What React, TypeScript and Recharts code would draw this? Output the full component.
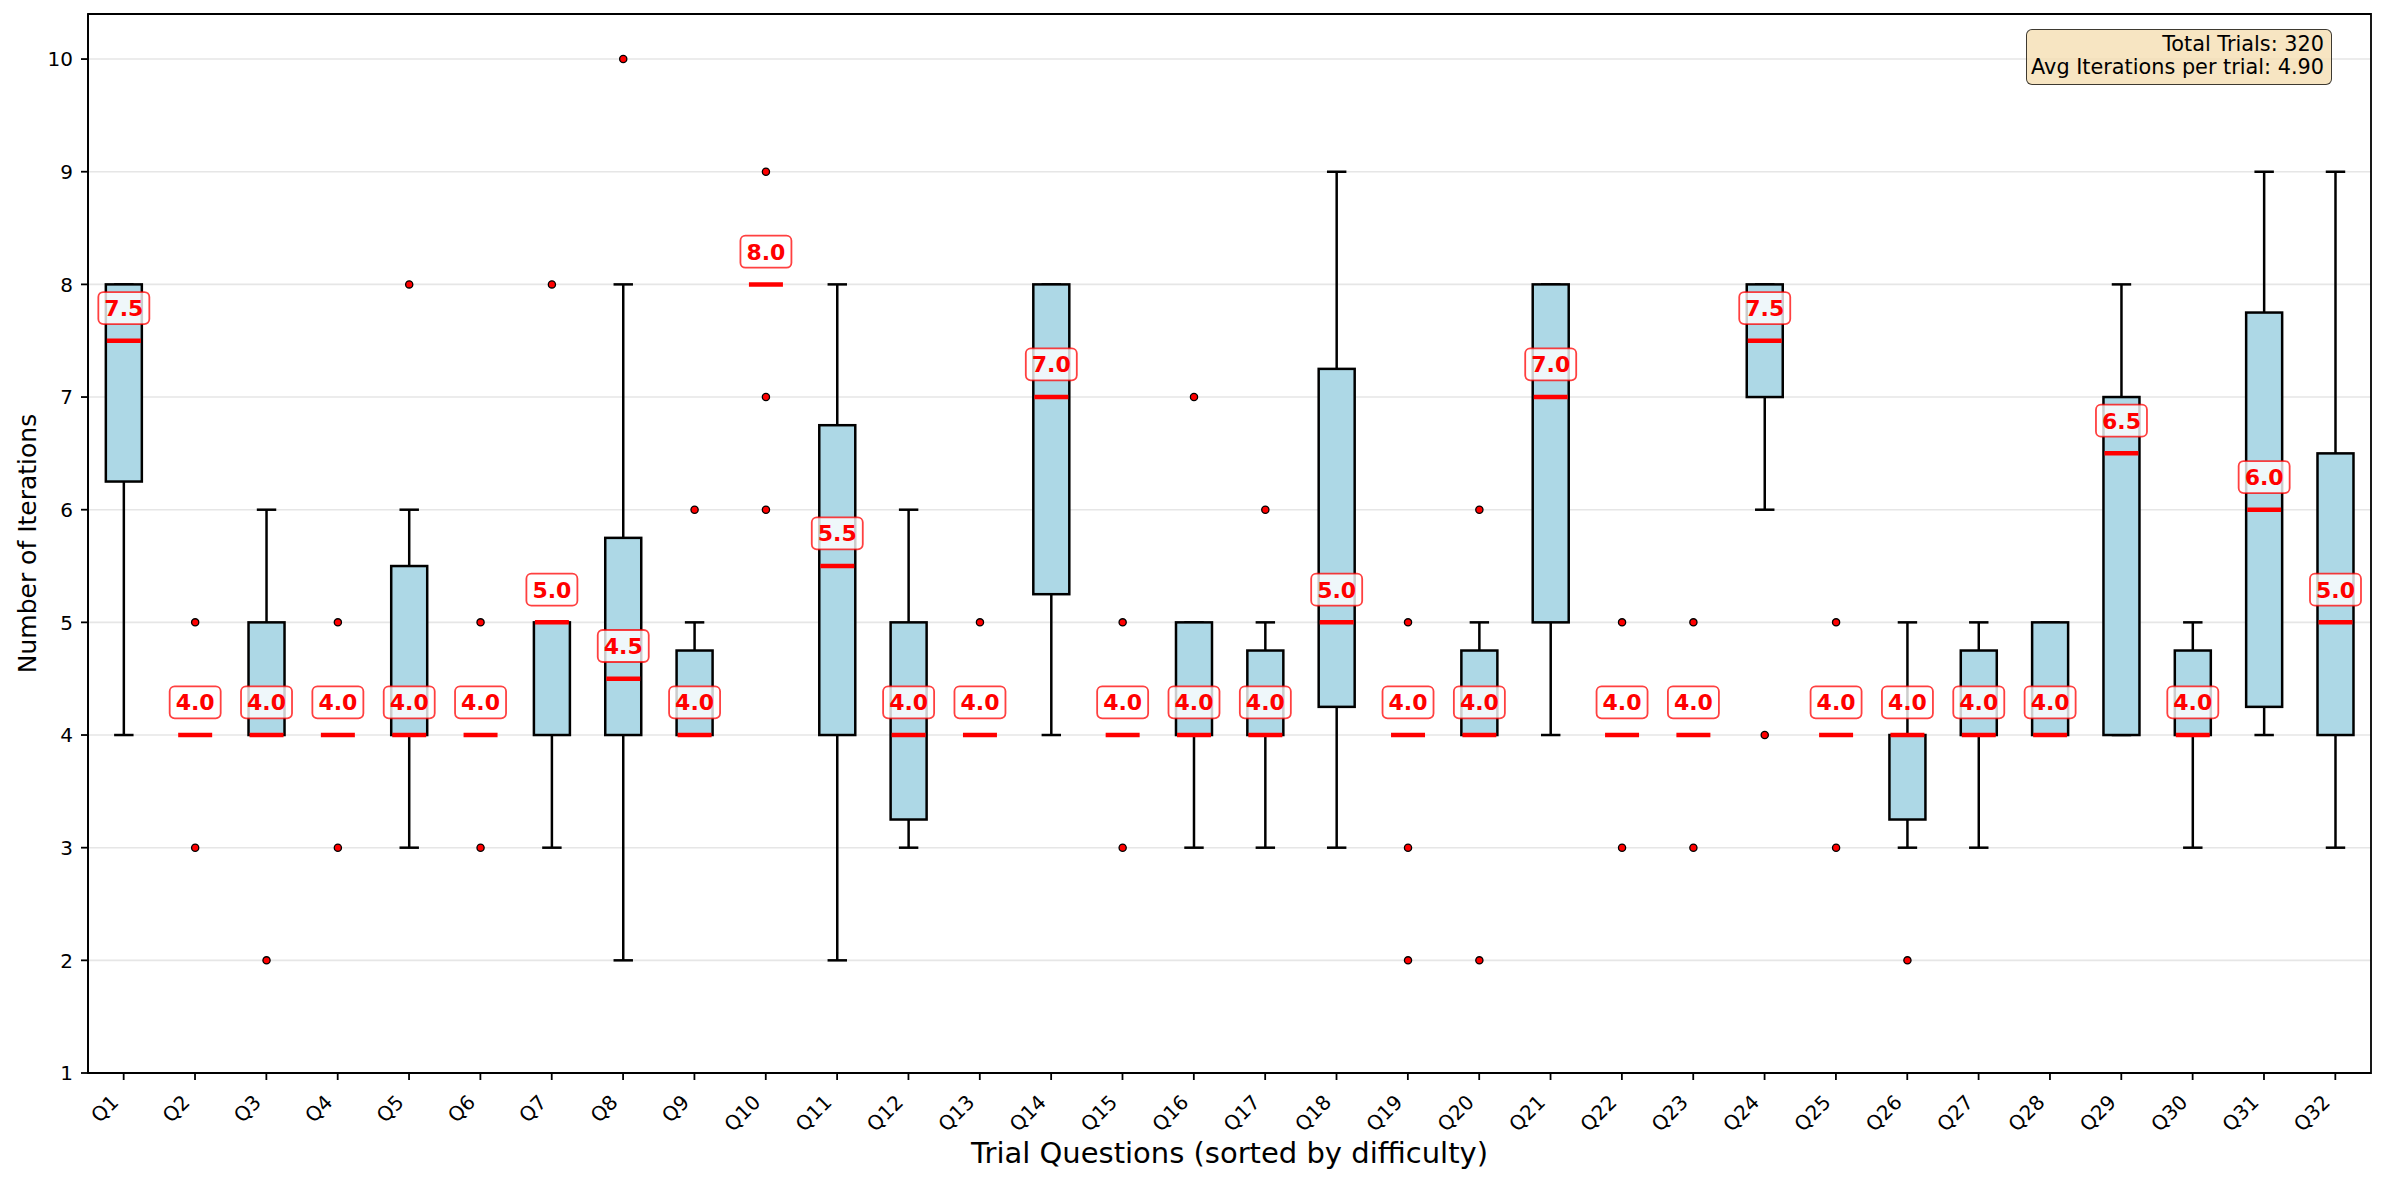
import React from 'react';
import { ComposedChart, Bar, XAxis, YAxis, CartesianGrid, ReferenceArea } from 'recharts';

const categories = ['Q1','Q2','Q3','Q4','Q5','Q6','Q7','Q8','Q9','Q10','Q11','Q12','Q13','Q14','Q15','Q16','Q17','Q18','Q19','Q20','Q21','Q22','Q23','Q24','Q25','Q26','Q27','Q28','Q29','Q30','Q31','Q32'];
const whiskerLow = [4,4,4,4,3,4,3,2,4,8,2,3,4,4,4,3,3,3,4,4,4,4,4,6,4,3,3,4,4,3,4,3];
const quartile1 = [6.25,4,4,4,4,4,4,4,4,8,4,3.25,4,5.25,4,4,4,4.25,4,4,5,4,4,7,4,3.25,4,4,4,4,4.25,4];
const medians = [7.5,4,4,4,4,4,5,4.5,4,8,5.5,4,4,7,4,4,4,5,4,4,7,4,4,7.5,4,4,4,4,6.5,4,6,5];
const quartile3 = [8,4,5,4,5.5,4,5,5.75,4.75,8,6.75,5,4,8,4,5,4.75,7.25,4,4.75,8,4,4,8,4,4,4.75,5,7,4.75,7.75,6.5];
const whiskerHigh = [8,4,6,4,6,4,5,8,5,8,8,6,4,8,4,5,5,9,4,5,8,4,4,8,4,5,5,5,8,5,9,9];
const outliers: number[][] = [[],[5,3],[2],[5,3],[8],[5,3],[8],[10],[6],[9,7,6],[],[],[5],[],[5,3],[7],[6],[],[5,3,2],[6,2],[],[5,3],[5,3],[4],[5,3],[2],[],[],[],[],[],[]];
const yTicks = [1,2,3,4,5,6,7,8,9,10];
const yDomain: [number, number] = [1, 10.4];
const totalTrials = 320;
const avgIterations = 4.9;

const data = categories.map((name, i) => {
  const all = [whiskerLow[i], whiskerHigh[i], ...outliers[i]];
  return {
    name,
    wl: whiskerLow[i], q1: quartile1[i], med: medians[i], q3: quartile3[i], wh: whiskerHigh[i],
    out: outliers[i],
    lo: Math.min(...all), hi: Math.max(...all),
  };
});

const FONT = 'DejaVu Sans, sans-serif';

const BoxShape = (props: any) => {
  const { x, y, width, height, payload } = props;
  if (!payload) return null;
  const top = Math.min(y, y + height);
  const bot = Math.max(y, y + height);
  const ppu = (bot - top) / (payload.hi - payload.lo);
  const py = (v: number) => bot - (v - payload.lo) * ppu;
  const cx = x + width / 2;
  const half = width / 2;
  const capHalf = width * 0.27;
  const lw = 2.5;
  const labelCy = py(payload.med + 0.29);
  return (
    <g>
      <line x1={cx} x2={cx} y1={py(payload.q1)} y2={py(payload.wl)} stroke="#000" strokeWidth={lw} />
      <line x1={cx} x2={cx} y1={py(payload.q3)} y2={py(payload.wh)} stroke="#000" strokeWidth={lw} />
      <line x1={cx - capHalf} x2={cx + capHalf} y1={py(payload.wl)} y2={py(payload.wl)} stroke="#000" strokeWidth={lw} />
      <line x1={cx - capHalf} x2={cx + capHalf} y1={py(payload.wh)} y2={py(payload.wh)} stroke="#000" strokeWidth={lw} />
      <rect x={cx - half} y={py(payload.q3)} width={width} height={py(payload.q1) - py(payload.q3)} fill="#add8e6" stroke="#000" strokeWidth={lw} />
      <line x1={cx - half + 1} x2={cx + half - 1} y1={py(payload.med)} y2={py(payload.med)} stroke="#ff0000" strokeWidth={4.5} />
      {payload.out.map((v: number, k: number) => (
        <circle key={k} cx={cx} cy={py(v)} r={3.6} fill="#ff0000" stroke="#000" strokeWidth={1.3} />
      ))}
      <rect x={cx - 25.5} y={labelCy - 16} width={51} height={32} rx={5} ry={5} fill="#ffffff" fillOpacity={0.8} stroke="#ff0000" strokeOpacity={0.75} strokeWidth={1.8} />
      <text x={cx} y={labelCy + 8} textAnchor="middle" fontSize={22} fontWeight="bold" fill="#ff0000" fontFamily={FONT}>
        {payload.med.toFixed(1)}
      </text>
    </g>
  );
};

const XTick = (props: any) => {
  const { x, y, payload } = props;
  const ax = x - 4;
  const ay = y + 23.5;
  return (
    <text x={ax} y={ay} transform={`rotate(-45, ${ax}, ${ay})`} textAnchor="end" fontSize={20} fill="#000" fontFamily={FONT}>
      {payload.value}
    </text>
  );
};

const YTick = (props: any) => {
  const { x, y, payload } = props;
  return (
    <text x={x} y={y + 7.3} textAnchor="end" fontSize={20} fill="#000" fontFamily={FONT}>
      {payload.value}
    </text>
  );
};

const XLabel = (props: any) => {
  const vb = props.viewBox || {};
  return (
    <text x={vb.x + vb.width / 2} y={1163} textAnchor="middle" fontSize={29} fill="#000" fontFamily={FONT}>
      Trial Questions (sorted by difficulty)
    </text>
  );
};

const YLabel = (props: any) => {
  const vb = props.viewBox || {};
  const cy = vb.y + vb.height / 2;
  return (
    <text x={36} y={cy} transform={`rotate(-90, 36, ${cy})`} textAnchor="middle" fontSize={25} fill="#000" fontFamily={FONT}>
      Number of Iterations
    </text>
  );
};

export default function App() {
  return (
    <div style={{ position: 'absolute', left: 0, top: 0, width: 2386, height: 1183, background: '#fff', fontFamily: FONT }}>
      <ComposedChart width={2386} height={1183} data={data} margin={{ top: 14, right: 15, bottom: 0, left: 0 }} barCategoryGap="25%">
        <CartesianGrid vertical={false} stroke="#e6e6e6" strokeWidth={1.6} />
        <XAxis dataKey="name" type="category" height={110} tickSize={7} tickMargin={0} tick={<XTick />} interval={0}
          axisLine={{ stroke: '#000', strokeWidth: 1.8 }} tickLine={{ stroke: '#000', strokeWidth: 1.8 }} label={<XLabel />} />
        <YAxis type="number" domain={yDomain} ticks={yTicks} width={88} tickSize={7} tickMargin={8} tick={<YTick />}
          allowDataOverflow axisLine={{ stroke: '#000', strokeWidth: 1.8 }} tickLine={{ stroke: '#000', strokeWidth: 1.8 }} label={<YLabel />} />
        <Bar dataKey={(d: any) => [d.lo, d.hi]} shape={<BoxShape />} isAnimationActive={false} />
        <ReferenceArea y1={yDomain[0]} y2={yDomain[1]} fill="none" fillOpacity={0} stroke="#000" strokeWidth={1.8} ifOverflow="visible" />
      </ComposedChart>
      <div style={{
        position: 'absolute', left: 2026, top: 29, width: 306, height: 56, boxSizing: 'border-box',
        background: 'rgba(245,222,179,0.8)', border: '1.6px solid rgba(0,0,0,0.75)', borderRadius: 6,
        textAlign: 'right', paddingRight: 7, paddingTop: 3, fontSize: 20.8, lineHeight: '23px', color: '#000', fontFamily: FONT,
        whiteSpace: 'nowrap',
      }}>
        <div>Total Trials: {totalTrials}</div>
        <div>Avg Iterations per trial: {avgIterations.toFixed(2)}</div>
      </div>
    </div>
  );
}
